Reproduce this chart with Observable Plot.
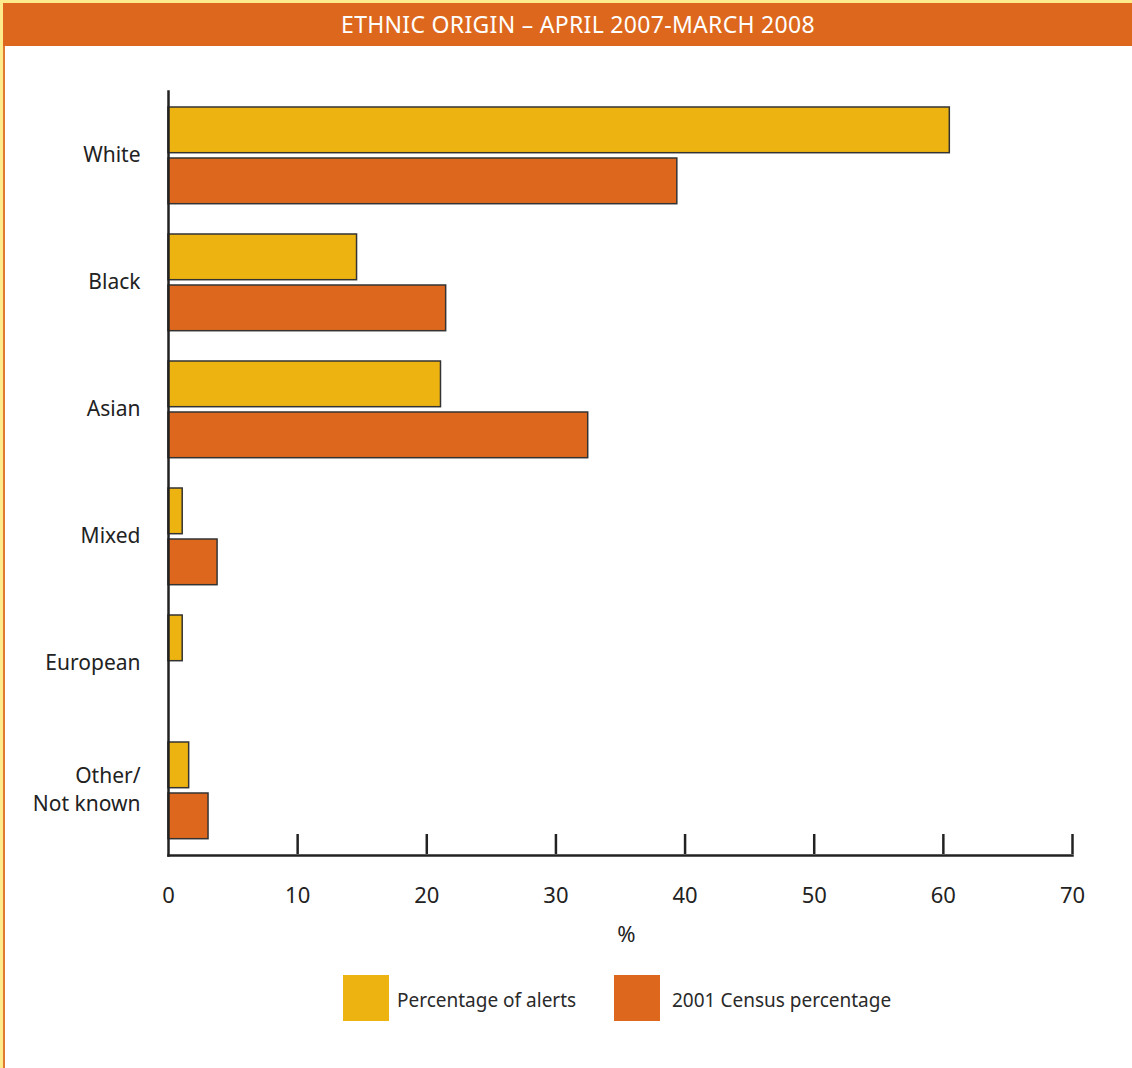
<!DOCTYPE html>
<html><head><meta charset="utf-8">
<script src="https://cdn.jsdelivr.net/npm/d3@7"></script>
<script src="https://cdn.jsdelivr.net/npm/@observablehq/plot@0.6"></script>
<style>
body{margin:0;background:#fff;font-family:"Noto Sans",sans-serif;}
#frame{width:1129px;height:1065px;border-top:3px solid #FDEB8C;border-left:3px solid #FDEB8C;position:relative;overflow:hidden;}
#header{height:43px;background:#DD681D;color:#fff;font-size:23px;display:flex;align-items:center;justify-content:center;padding-left:21px;padding-bottom:2px;box-sizing:border-box;letter-spacing:0.3px;}
#body{border-left:2px solid #E07A30;height:1022px;}
#legend{position:relative;height:60px;margin-top:20px;}
.item{position:absolute;top:0;display:flex;align-items:center;font-size:19px;color:#2a2a2a;}
.item span{position:relative;top:2px;}
.sw{width:46px;height:46px;margin-right:8px;}
</style></head>
<body>
<div id="frame">
  <div id="header">ETHNIC ORIGIN – APRIL 2007-MARCH 2008</div>
  <div id="body">
    <div id="chart"></div>
    <div id="legend"></div>
  </div>
</div>
<script>
const categories = ["White", "Black", "Asian", "Mixed", "European", "Other/\nNot known"];
const alerts = [60.5, 14.6, 21.1, 1.1, 1.1, 1.6];
const census = [39.4, 21.5, 32.5, 3.8, null, 3.1];
const xTicks = [0, 10, 20, 30, 40, 50, 60, 70];
const seriesNames = ["Percentage of alerts", "2001 Census percentage"];
const seriesColors = ["#EDB311", "#DD681D"];

const alertRows = categories.map((c, i) => ({category: c, value: alerts[i]}));
const censusRows = categories.map((c, i) => ({category: c, value: census[i]}));

const ink = "#222";
const chart = Plot.plot({
  width: 1127,
  height: 909,
  marginLeft: 163,
  marginRight: 60,
  marginTop: 45,
  marginBottom: 100,
  style: {fontFamily: "'Noto Sans', sans-serif", color: ink, background: "transparent"},
  x: {domain: [0, 70]},
  y: {domain: categories, padding: 0},
  marks: [
    Plot.barX(alertRows, {x: "value", y: "category", fill: seriesColors[0], stroke: "#333", strokeWidth: 1.5, insetTop: 15, insetBottom: 66.3}),
    Plot.barX(censusRows.filter(d => d.value != null), {x: "value", y: "category", fill: seriesColors[1], stroke: "#333", strokeWidth: 1.5, insetTop: 66, insetBottom: 15.3}),
    Plot.frame({anchor: "left", stroke: ink, strokeWidth: 2.5}),
    Plot.frame({anchor: "bottom", stroke: ink, strokeWidth: 2.5}),
    Plot.tickX(xTicks.slice(1), {x: d => d, y: () => categories[categories.length - 1], insetTop: 107, stroke: ink, strokeWidth: 2.5}),
    Plot.axisX(xTicks, {tickSize: 0, tickPadding: 32, fontSize: 22, fill: ink, label: null}),
    Plot.axisY({tickSize: 0, tickPadding: 28, fontSize: 21, fill: ink, lineHeight: 1.35, dy: -3, label: null}),
    Plot.text(["%"], {text: d => d, frameAnchor: "bottom", dy: 86, dx: 6, fontSize: 22, fill: ink})
  ]
});
document.getElementById("chart").appendChild(chart);

const legend = document.getElementById("legend");
const lefts = [338, 609];
seriesNames.forEach((name, i) => {
  const item = document.createElement("div");
  item.className = "item";
  item.style.left = lefts[i] + "px";
  const sw = document.createElement("div");
  sw.className = "sw";
  sw.style.background = seriesColors[i];
  item.appendChild(sw);
  const t = document.createElement("span");
  t.textContent = name;
  if (i === 1) t.style.marginLeft = "4px";
  item.appendChild(t);
  legend.appendChild(item);
});
</script>
</body></html>
